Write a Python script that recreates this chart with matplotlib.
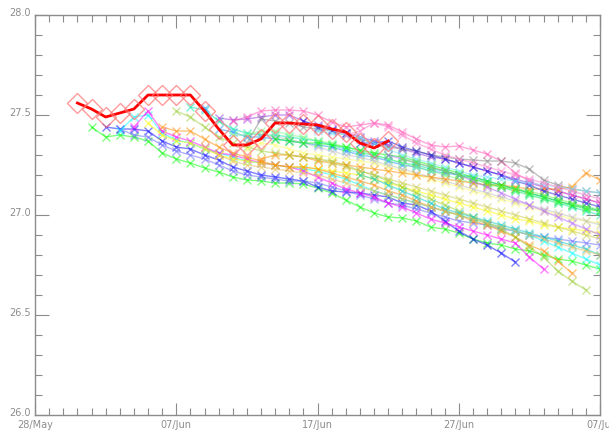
import numpy as np
import matplotlib
matplotlib.use("Agg")
import matplotlib.pyplot as plt
import matplotlib.transforms as mtransforms
from matplotlib.ticker import MultipleLocator, FormatStrFormatter

# eixo x em dias desde 28/May
tick_days = [0, 10, 20, 30, 40]
tick_labels = ["28/May", "07/Jun", "17/Jun", "27/Jun", "07/Jul"]

# observado (linha vermelha grossa)
obs_start = 3
obs = [27.56, 27.53, 27.49, 27.51, 27.53, 27.60, 27.60, 27.60, 27.60, 27.52,
       27.43, 27.35, 27.35, 27.38, 27.46, 27.46, 27.455, 27.45, 27.43, 27.415,
       27.36, 27.335, 27.37]

# membros da previsao (cada um com o dia inicial)
m01 = [27.44, 27.39, 27.40, 27.39, 27.37, 27.31, 27.28, 27.26, 27.235, 27.215,
       27.19, 27.175, 27.17, 27.16, 27.16, 27.155, 27.135, 27.11, 27.075, 27.04,
       27.01, 26.99, 26.985, 26.97, 26.94, 26.93, 26.91, 26.88, 26.86, 26.85,
       26.83, 26.82, 26.80, 26.78, 26.77, 26.75, 26.73]
m02 = [27.44, 27.43, 27.43, 27.42, 27.37, 27.34, 27.33, 27.30, 27.275, 27.24,
       27.22, 27.20, 27.19, 27.18, 27.17, 27.14, 27.12, 27.115, 27.11, 27.10,
       27.09, 27.06, 27.05, 27.02, 26.97, 26.92, 26.88, 26.85, 26.81, 26.765]
m03 = [27.43, 27.40, 27.39, 27.35, 27.32, 27.30, 27.28, 27.25, 27.22, 27.20,
       27.19, 27.18, 27.17, 27.17, 27.16, 27.14, 27.12, 27.10, 27.08, 27.06,
       27.05, 27.03, 27.01, 26.99, 26.97, 26.96, 26.95, 26.93, 26.92, 26.90,
       26.89, 26.88, 26.87, 26.86, 26.85]
m04 = [27.42, 27.49, 27.50, 27.41, 27.375, 27.36, 27.33, 27.31, 27.29, 27.27,
       27.26, 27.25, 27.24, 27.23, 27.22, 27.20, 27.18, 27.15, 27.12, 27.10,
       27.08, 27.06, 27.04, 27.02, 27.00, 26.98, 26.96, 26.94, 26.92, 26.90,
       26.87, 26.84, 26.81, 26.78, 26.75]
m05 = [27.44, 27.52, 27.42, 27.39, 27.37, 27.34, 27.31, 27.30, 27.28, 27.26,
       27.25, 27.24, 27.22, 27.19, 27.16, 27.13, 27.11, 27.09, 27.06, 27.04,
       27.01, 26.98, 26.96, 26.94, 26.92, 26.90, 26.88, 26.86, 26.79, 26.73]
m06 = [27.46, 27.40, 27.37, 27.36, 27.33, 27.30, 27.28, 27.27, 27.26, 27.25,
       27.24, 27.24, 27.23, 27.22, 27.21, 27.20, 27.18, 27.16, 27.14, 27.12,
       27.10, 27.08, 27.06, 27.04, 27.02, 27.00, 26.98, 26.97, 26.95, 26.94,
       26.93, 26.92, 26.91]
m07 = [27.44, 27.42, 27.42, 27.38, 27.34, 27.31, 27.29, 27.27, 27.25, 27.24,
       27.24, 27.23, 27.21, 27.19, 27.17, 27.15, 27.12, 27.10, 27.07, 27.04,
       27.02, 27.00, 26.97, 26.95, 26.92, 26.89, 26.85, 26.82, 26.77, 26.71]
m08 = [27.52, 27.49, 27.44, 27.39, 27.36, 27.34, 27.32, 27.31, 27.30, 27.29,
       27.28, 27.27, 27.25, 27.22, 27.20, 27.17, 27.14, 27.11, 27.08, 27.05,
       27.02, 26.99, 26.96, 26.93, 26.89, 26.84, 26.79, 26.72, 26.67, 26.625]
m09 = [27.54, 27.525, 27.47, 27.43, 27.41, 27.40, 27.40, 27.39, 27.38, 27.37,
       27.35, 27.33, 27.31, 27.30, 27.28, 27.26, 27.25, 27.23, 27.22, 27.20,
       27.18, 27.16, 27.14, 27.12, 27.10, 27.08, 27.06, 27.04, 27.02, 27.00]
m10 = [27.535, 27.43, 27.415, 27.39, 27.39, 27.38, 27.37, 27.36, 27.35, 27.34,
       27.32, 27.30, 27.29, 27.27, 27.25, 27.24, 27.22, 27.21, 27.20, 27.19,
       27.17, 27.15, 27.13, 27.11, 27.09, 27.07, 27.05, 27.04, 27.02]
m11 = [27.485, 27.475, 27.48, 27.49, 27.50, 27.50, 27.47, 27.45, 27.43, 27.41,
       27.39, 27.37, 27.35, 27.33, 27.31, 27.29, 27.28, 27.26, 27.24, 27.22,
       27.20, 27.18, 27.16, 27.14, 27.12, 27.10, 27.08, 27.06]
m12 = [27.47, 27.49, 27.52, 27.525, 27.525, 27.52, 27.50, 27.465, 27.44, 27.45,
       27.46, 27.45, 27.415, 27.38, 27.35, 27.34, 27.345, 27.325, 27.305, 27.27,
       27.21, 27.17, 27.14, 27.12, 27.10, 27.08, 27.06]
m13 = [27.36, 27.48, 27.47, 27.46, 27.44, 27.43, 27.42, 27.40, 27.38, 27.36,
       27.34, 27.33, 27.32, 27.30, 27.29, 27.28, 27.275, 27.27, 27.27, 27.26,
       27.23, 27.175, 27.15, 27.13, 27.12, 27.11]
m14 = [27.40, 27.40, 27.42, 27.42, 27.40, 27.39, 27.37, 27.36, 27.34, 27.32,
       27.30, 27.28, 27.26, 27.24, 27.22, 27.20, 27.18, 27.16, 27.15, 27.14,
       27.12, 27.10, 27.08, 27.06, 27.05, 27.04, 27.03]
m15 = [27.33, 27.36, 27.35, 27.33, 27.31, 27.30, 27.29, 27.28, 27.27, 27.26,
       27.24, 27.22, 27.20, 27.18, 27.16, 27.14, 27.12, 27.10, 27.08, 27.06,
       27.04, 27.02, 27.00, 26.98, 26.97, 26.96]
m16 = [27.40, 27.39, 27.38, 27.36, 27.34, 27.32, 27.30, 27.29, 27.27, 27.25,
       27.23, 27.21, 27.19, 27.17, 27.15, 27.13, 27.11, 27.09, 27.07, 27.05,
       27.03, 27.01, 26.99, 26.97, 26.95]
m17 = [27.28, 27.30, 27.30, 27.29, 27.27, 27.26, 27.25, 27.24, 27.23, 27.22,
       27.21, 27.20, 27.19, 27.18, 27.17, 27.16, 27.15, 27.15, 27.14, 27.13,
       27.13, 27.13, 27.14, 27.21, 27.175]
m18 = [27.47, 27.44, 27.425, 27.41, 27.36, 27.36, 27.37, 27.34, 27.32, 27.30,
       27.28, 27.26, 27.24, 27.22, 27.20, 27.17, 27.15, 27.12, 27.10, 27.08,
       27.06, 27.04]
m19 = [27.38, 27.37, 27.36, 27.36, 27.35, 27.34, 27.325, 27.31, 27.30, 27.29,
       27.27, 27.25, 27.23, 27.21, 27.19, 27.17, 27.15, 27.13, 27.11, 27.09,
       27.07, 27.05, 27.03, 27.02]
m20 = [27.42, 27.41, 27.40, 27.39, 27.36, 27.33, 27.30, 27.28, 27.26, 27.24,
       27.22, 27.20, 27.19, 27.18, 27.17, 27.16, 27.15, 27.14, 27.13, 27.12,
       27.11]
m21 = [27.40, 27.42, 27.46, 27.44, 27.40, 27.36, 27.33, 27.30, 27.28, 27.26,
       27.24, 27.22, 27.20, 27.18, 27.16, 27.14, 27.12, 27.10, 27.08]
m22 = [27.30, 27.29, 27.28, 27.26, 27.24, 27.22, 27.20, 27.18, 27.16, 27.14,
       27.12, 27.10, 27.08, 27.06, 27.04, 27.02, 27.00, 26.98, 26.96, 26.94,
       26.92, 26.90, 26.88]
m23 = [27.30, 27.28, 27.26, 27.24, 27.22, 27.20, 27.17, 27.14, 27.11, 27.08,
       27.05, 27.02, 26.99, 26.96, 26.93, 26.90]
m24 = [27.28, 27.26, 27.24, 27.22, 27.20, 27.18, 27.16, 27.14, 27.13, 27.12,
       27.10, 27.08, 27.06, 27.04, 27.02]
m25 = [27.20, 27.18, 27.15, 27.12, 27.09, 27.06, 27.03, 27.01, 26.99, 26.97,
       26.95, 26.93, 26.91, 26.89, 26.87, 26.85, 26.83, 26.80]
m26 = [27.34, 27.30, 27.27, 27.25, 27.24, 27.23, 27.22, 27.21, 27.20, 27.18,
       27.16, 27.14, 27.12, 27.10, 27.08, 27.06, 27.04, 27.02, 27.00, 26.98,
       26.96, 26.94, 26.92, 26.90, 26.88, 26.86, 26.84, 26.82, 26.80]

members = [m01, m02, m03, m04, m05, m06, m07, m08, m09, m10, m11, m12, m13,
           m14, m15, m16, m17, m18, m19, m20, m21, m22, m23, m24, m25, m26]
member_starts = [4, 5, 6, 6, 7, 8, 9, 10, 11, 12, 13, 14, 15,
                 14, 15, 16, 16, 19, 17, 20, 22, 18, 25, 26, 23, 12]

# cores (estilo)
cores = ["#00ff00", "#0000ff", "#6464ff", "#00ffff", "#ff00ff", "#ffff00",
         "#ff8c00", "#9acd32", "#00e6aa", "#1e90ff", "#9632e6", "#ff50b4",
         "#808080", "#78ff78", "#ffff64", "#bebebe", "#ff8c00", "#1414dc",
         "#00ff00", "#78e6ff", "#ff78c8", "#c8c850", "#b464ff", "#64f03c",
         "#00c8c8", "#e6be5a"]

cinza = "#8c8c8c"

fig = plt.figure(figsize=(6.09, 4.30), dpi=100)
ax = fig.add_axes([35 / 609, 15 / 430, 565 / 609, 400 / 430])

for vals, ini, cor in zip(members, member_starts, cores):
    x = np.arange(ini, ini + len(vals))
    ax.plot(x, vals, color=cor, alpha=0.5, lw=1, marker="x", ms=6, mew=1)

x_obs = np.arange(obs_start, obs_start + len(obs))
ax.plot(x_obs, obs, color="red", lw=2.0, zorder=5)
ax.plot(x_obs, obs, ls="none", marker="D", ms=10, mfc="none",
        mec="#ff7070", mew=1, alpha=0.7, zorder=5)

ax.set_xlim(0, 40)
ax.set_ylim(26.0, 28.0)
ax.set_xticks(tick_days)
ax.set_xticklabels(tick_labels)
ax.xaxis.set_minor_locator(MultipleLocator(1))
ax.yaxis.set_major_locator(MultipleLocator(0.5))
ax.yaxis.set_minor_locator(MultipleLocator(0.1))
ax.yaxis.set_major_formatter(FormatStrFormatter("%.1f"))

ax.tick_params(which="both", direction="in", top=True, right=True,
               color=cinza, labelcolor=cinza, labelsize=7, width=0.8)
ax.tick_params(axis="y", which="major", length=10, pad=3)
ax.tick_params(axis="x", which="major", length=9, pad=3.5)
ax.tick_params(which="minor", length=5)
for sp in ax.spines.values():
    sp.set_color(cinza)
    sp.set_linewidth(1)

# sobe um pouco os rotulos do eixo y (como no original)
desloc = mtransforms.ScaledTranslation(0, 2.5 / 72, fig.dpi_scale_trans)
for lbl in ax.get_yticklabels():
    lbl.set_transform(lbl.get_transform() + desloc)

fig.savefig("out.png", dpi=100)
